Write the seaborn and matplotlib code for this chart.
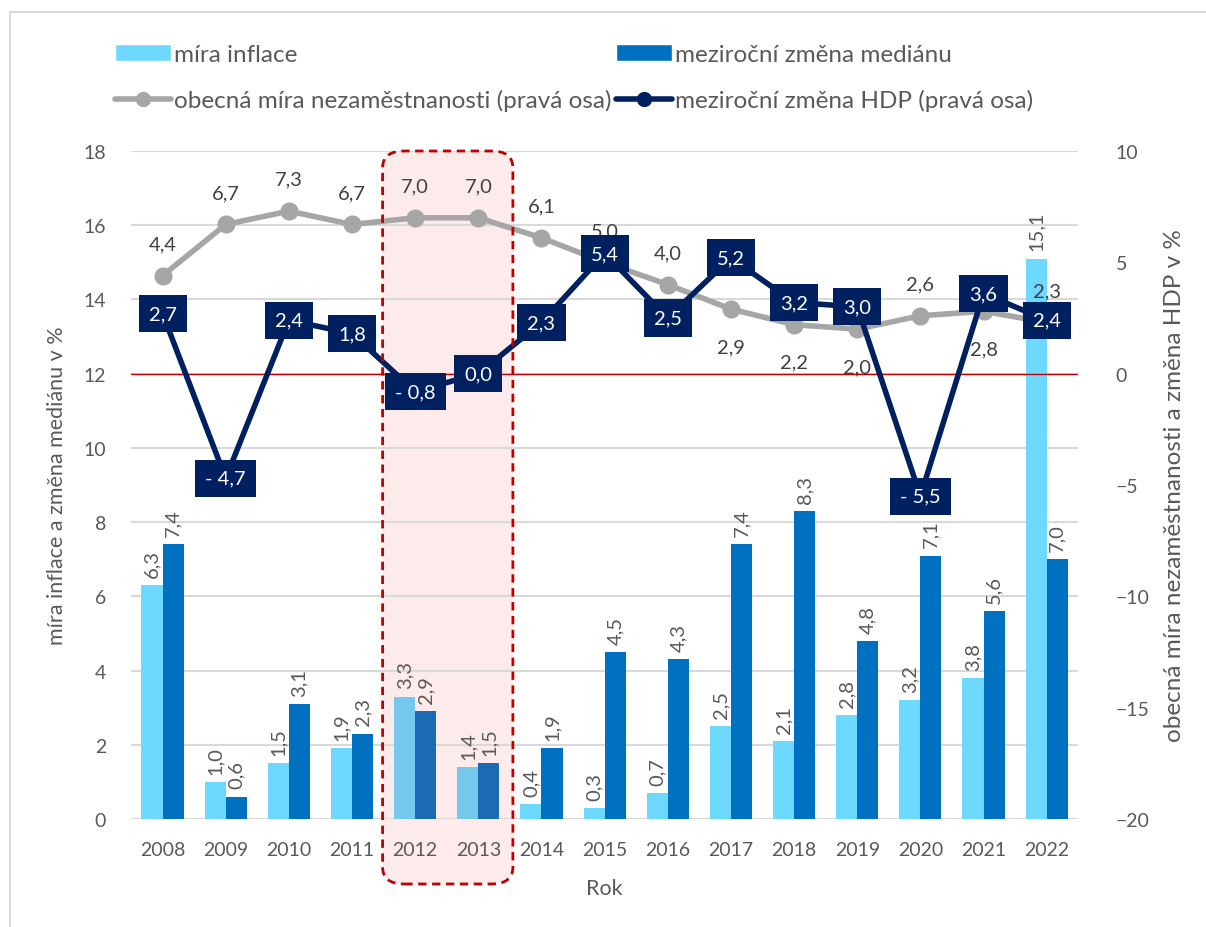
import numpy as np
import pandas as pd
import matplotlib
matplotlib.use('Agg')
import matplotlib.pyplot as plt
import seaborn as sns
from matplotlib.patches import FancyBboxPatch, Rectangle
from matplotlib.lines import Line2D
from matplotlib.patches import Patch

# Data
years = ['2008', '2009', '2010', '2011', '2012', '2013', '2014', '2015',
         '2016', '2017', '2018', '2019', '2020', '2021', '2022']
inflace = [6.3, 1.0, 1.5, 1.9, 3.3, 1.4, 0.4, 0.3, 0.7, 2.5, 2.1, 2.8, 3.2, 3.8, 15.1]
median = [7.4, 0.6, 3.1, 2.3, 2.9, 1.5, 1.9, 4.5, 4.3, 7.4, 8.3, 4.8, 7.1, 5.6, 7.0]
nezamestnanost = [4.4, 6.7, 7.3, 6.7, 7.0, 7.0, 6.1, 5.0, 4.0, 2.9, 2.2, 2.0, 2.6, 2.8, 2.3]
hdp = [2.7, -4.7, 2.4, 1.8, -0.8, 0.0, 2.3, 5.4, 2.5, 5.2, 3.2, 3.0, -5.5, 3.6, 2.4]
highlight = ['2012', '2013']

lbl_inflace = 'míra inflace'
lbl_median = 'meziroční změna mediánu'
lbl_nezam = 'obecná míra nezaměstnanosti (pravá osa)'
lbl_hdp = 'meziroční změna HDP (pravá osa)'

# Colors
c_infl = '#6DD9FF'
c_med = '#0070C0'
c_infl_hl = '#75C8EC'
c_med_hl = '#1A6BB3'
c_gray = '#A6A6A6'
c_navy = '#002060'
c_text = '#595959'

sns.set_theme(style='white')
plt.rcParams['font.family'] = ['Lato', 'DejaVu Sans']
plt.rcParams['text.color'] = c_text

def fmt(v):
    s = f'{abs(v):.1f}'.replace('.', ',')
    return ('- ' + s) if v < 0 else s

fig = plt.figure(figsize=(12.06, 9.28), dpi=100)
ax = fig.add_axes([0.1086, 0.1164, 0.7855, 0.7198])
ax2 = ax.twinx()
ax.patch.set_visible(False)
ax2.patch.set_visible(False)

# frame of the chart area
fig.patches.append(Rectangle((10 / 1206, -0.1), 1.2, (928 - 13) / 928 + 0.1,
                             transform=fig.transFigure, fill=False,
                             edgecolor='#D9D9D9', linewidth=1.5, zorder=-2))

# bars
df = pd.DataFrame({'Rok': years * 2,
                   'hodnota': inflace + median,
                   'serie': [lbl_inflace] * len(years) + [lbl_median] * len(years)})
sns.barplot(data=df, x='Rok', y='hodnota', hue='serie', ax=ax, width=0.667,
            palette=[c_infl, c_med], saturation=1, linewidth=0, legend=False, zorder=2)

for cont, hl_col in zip(ax.containers, [c_infl_hl, c_med_hl]):
    for yr, bar in zip(years, cont):
        if yr in highlight:
            bar.set_facecolor(hl_col)
    ax.bar_label(cont, labels=[fmt(v) for v in cont.datavalues], rotation=90,
                 padding=6, fontsize=14.5, color=c_text)

ax.set_ylim(0, 18)
ax.set_yticks(np.arange(0, 19, 2))
ax.grid(axis='y', color='#D9D9D9', linewidth=1.5, zorder=0)
ax.set_axisbelow(True)
for s in ax.spines.values():
    s.set_visible(False)
for s in ax2.spines.values():
    s.set_visible(False)
ax.tick_params(axis='both', length=0, labelsize=14, colors=c_text)
ax.tick_params(axis='y', pad=18)
ax.tick_params(axis='x', pad=16)
ax.set_ylabel('míra inflace a změna mediánu v %', fontsize=15.5, color=c_text, labelpad=12)
ax.set_xlabel('Rok', fontsize=15.5, color=c_text, labelpad=14)

# lines on right axis
ax2.set_ylim(-20, 10)
ax2.set_yticks(np.arange(-20, 11, 5))
ax2.tick_params(axis='y', length=0, labelsize=14, colors=c_text, pad=27)
ax2.set_ylabel('obecná míra nezaměstnanosti a změna HDP v %', fontsize=17.5,
               color=c_text, labelpad=10)
ax2.axhline(0, color='#C00000', linewidth=1, zorder=1)

sns.pointplot(x=years, y=nezamestnanost, ax=ax2, color=c_gray, markers='o',
              linewidth=4, markersize=10, zorder=3)
sns.pointplot(x=years, y=hdp, ax=ax2, color=c_navy, markers='o',
              linewidth=4, markersize=6, zorder=5)

below = ['2017', '2018', '2019', '2021']
for i, (yr, v) in enumerate(zip(years, nezamestnanost)):
    off = -27 if yr in below else 23
    ax2.annotate(fmt(v), (i, v), xytext=(0, off), textcoords='offset points',
                 ha='center', va='center', fontsize=14.5, color='#404040', zorder=4)

for i, v in enumerate(hdp):
    ax2.text(i, v, fmt(v), ha='center', va='center', fontsize=14.5, color='white',
             zorder=6, bbox=dict(boxstyle='square,pad=0.5', facecolor=c_navy,
                                 edgecolor='none'))

ax.set_xlim(-0.5, len(years) - 0.5)
ax2.set_xlim(-0.5, len(years) - 0.5)

# highlighted period (2012-2013)
x0 = ax.transData.transform((years.index(highlight[0]) - 0.5, 0))[0]
x1 = ax.transData.transform((years.index(highlight[-1]) + 0.5, 0))[0]
fw, fh = fig.bbox.width, fig.bbox.height
rx0, rx1 = (x0 - 1) / fw, (x1 + 3) / fw
ry0, ry1 = 1 - 885 / 928, 1 - 152 / 928
fig.patches.append(FancyBboxPatch((rx0, ry0), rx1 - rx0, ry1 - ry0,
                                  boxstyle='round,pad=0,rounding_size=0.018',
                                  transform=fig.transFigure, facecolor='#FDEBEB',
                                  edgecolor='none', zorder=-1))
edge = FancyBboxPatch((rx0, ry0), rx1 - rx0, ry1 - ry0,
                      boxstyle='round,pad=0,rounding_size=0.018',
                      transform=fig.transFigure, fill=False, edgecolor='#C00000',
                      linewidth=2, linestyle=(0, (3, 2)), zorder=10)
fig.patches.append(edge)

# legend
handles = [Patch(facecolor=c_infl, label=lbl_inflace),
           Line2D([], [], color=c_gray, lw=4, marker='o', markersize=10, label=lbl_nezam),
           Patch(facecolor=c_med, label=lbl_median),
           Line2D([], [], color=c_navy, lw=4, marker='o', markersize=10, label=lbl_hdp)]
fig.legend(handles=handles, loc='upper left', bbox_to_anchor=(0.077, 0.975),
           ncol=2, frameon=False, fontsize=17.5, handlelength=2.3, handletextpad=0.12,
           columnspacing=0.2, labelspacing=1.0, labelcolor=c_text)

fig.savefig('out.png', dpi=100)
